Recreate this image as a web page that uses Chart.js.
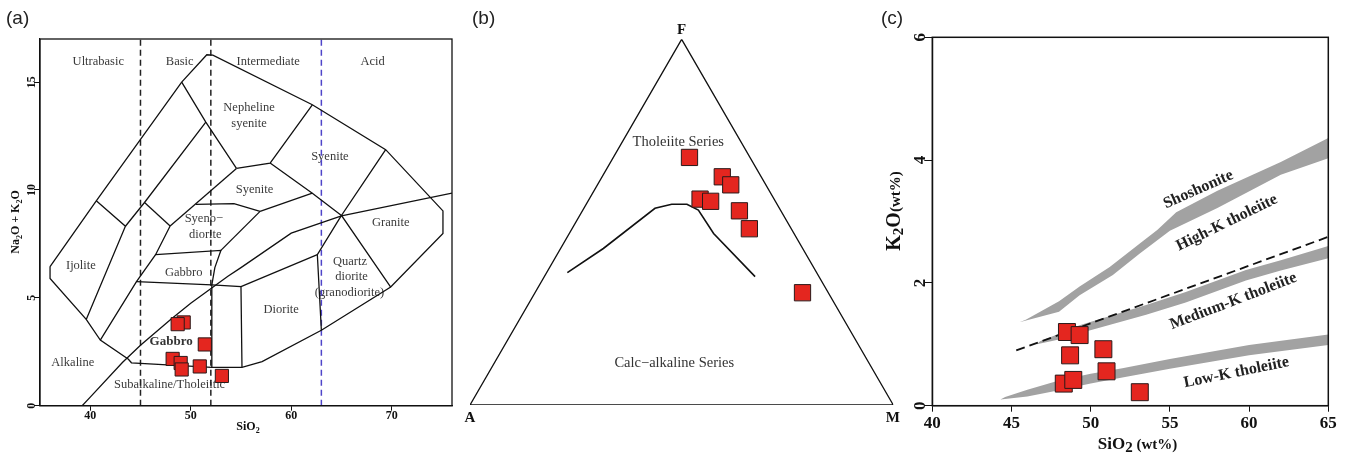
<!DOCTYPE html>
<html>
<head>
<meta charset="utf-8">
<title>TAS, AFM and K2O-SiO2 diagrams</title>
<script src="https://cdn.jsdelivr.net/npm/chart.js@4.4.1/dist/chart.umd.min.js"></script>
<style>
  html, body { margin: 0; padding: 0; background: #fff; }
  body { position: relative; width: 1349px; height: 455px; overflow: hidden; }
  .box { position: absolute; top: 0; height: 455px; }
  .tag { position: absolute; top: 7px; font: 19px "Liberation Sans", Arial, sans-serif; color: #222; }
</style>
</head>
<body>
<div class="box" style="left:0;width:460px"><canvas id="chartA"></canvas></div>
<div class="box" style="left:460px;width:440px"><canvas id="chartB"></canvas></div>
<div class="box" style="left:880px;width:469px"><canvas id="chartC"></canvas></div>
<div class="tag" style="left:6px">(a)</div>
<div class="tag" style="left:472px">(b)</div>
<div class="tag" style="left:881px">(c)</div>
<script>
// ---------- (a) TAS diagram ----------
const tasXTicks = [40, 50, 60, 70];
const tasYTicks = [0, 5, 10, 15];
const tasSiO2 = [49.3, 48.7, 51.4, 48.2, 49.0, 49.1, 50.9, 53.1];
const tasAlkali = [3.86, 3.78, 2.84, 2.17, 1.98, 1.68, 1.82, 1.38];
const silicaClasses = [45, 52, 63];
const tasOutline = [[36.0, 6.45], [36.0, 5.9], [39.6, 4.0], [41.0, 3.04], [43.8, 2.15], [44.1, 1.99], [52.1, 1.78], [55.1, 1.78], [57.1, 2.04], [63.0, 3.5], [69.9, 5.5], [75.1, 7.98], [75.1, 9.03], [69.4, 11.87], [62.1, 13.95], [52.2, 16.25], [51.6, 16.27], [49.1, 15.0], [40.6, 9.5], [36.0, 6.45]];
const tasFields = [
  [[40.6, 9.5], [43.5, 8.32], [39.6, 4.0]],
  [[43.5, 8.32], [45.4, 9.42], [51.5, 13.15]],
  [[45.4, 9.42], [47.95, 8.33]],
  [[47.95, 8.33], [46.5, 7.0], [44.6, 5.75], [41.0, 3.04]],
  [[49.1, 15.0], [51.5, 13.15], [54.55, 11.0]],
  [[54.55, 11.0], [57.9, 11.25], [62.1, 13.95]],
  [[47.95, 8.33], [54.55, 11.0]],
  [[50.5, 9.33], [54.3, 9.37], [56.9, 9.01]],
  [[56.9, 9.01], [62.1, 9.85]],
  [[57.9, 11.25], [62.1, 9.85], [65.0, 8.82]],
  [[69.4, 11.87], [65.0, 8.82], [69.9, 5.5]],
  [[65.0, 8.82], [62.6, 7.0], [63.0, 3.5]],
  [[56.9, 9.01], [53.0, 7.2]],
  [[46.5, 7.0], [53.0, 7.2], [52.4, 6.4], [52.1, 5.6], [52.1, 1.78]],
  [[44.6, 5.75], [52.1, 5.6], [55.0, 5.52], [55.1, 1.78]],
  [[55.0, 5.52], [62.6, 7.0]]
];
const alkalineDivide = [[39.2, 0], [40, 0.4], [43.2, 2], [45, 2.8], [48, 4], [50, 4.75], [53.7, 6], [55, 6.4], [60, 8], [65, 8.8], [76, 9.86]];
const tasLabels = [
  ['Ultrabasic', 40.8, 15.96], ['Basic', 48.9, 15.96], ['Intermediate', 57.7, 15.96], ['Acid', 68.1, 15.96],
  ['Nepheline', 55.8, 13.8], ['syenite', 55.8, 13.08], ['Syenite', 63.85, 11.53], ['Syenite', 56.35, 10.03],
  ['Syeno\u2212', 51.3, 8.67], ['diorite', 51.45, 7.92], ['Gabbro', 49.3, 6.16], ['Granite', 69.9, 8.47],
  ['Quartz', 65.85, 6.67], ['diorite', 66.0, 5.97], ['(granodiorite)', 65.8, 5.25], ['Diorite', 59.0, 4.46],
  ['Ijolite', 39.07, 6.51], ['Alkaline', 38.27, 1.99], ['Subalkaline/Tholeiitic', 47.9, 0.96]
];

// ---------- (b) AFM diagram (wt%) ----------
const afmA = [14.3, 9.2, 8.3, 17.5, 15.3, 9.8, 9.9, 6.1];
const afmF = [67.7, 62.4, 60.2, 56.3, 55.7, 53.1, 48.2, 30.7];
const afmM = [18.0, 28.4, 31.5, 26.2, 29.0, 37.1, 41.9, 63.2];
const divideA = [58.9, 47.1, 29.4, 24.9, 21.3, 19.4, 19.0, 15.1];
const divideF = [36.2, 42.8, 53.8, 54.9, 54.9, 53.3, 46.9, 35.1];
const divideM = [4.9, 10.1, 16.8, 20.2, 23.8, 27.3, 34.1, 49.8];

// ---------- (c) K2O vs SiO2 ----------
const kXTicks = [40, 45, 50, 55, 60, 65];
const kYTicks = [0, 2, 4, 6];
const kSiO2 = [48.5, 49.3, 48.7, 50.8, 51.0, 48.3, 48.9, 53.1];
const kK2O = [1.20, 1.15, 0.82, 0.92, 0.56, 0.36, 0.42, 0.22];
const shoLower = [[45.5, 1.36], [48, 1.53], [49.3, 1.8], [51.4, 2.13], [53.1, 2.48], [55, 2.85], [58, 3.22], [62, 3.76], [65, 4.03]];
const shoUpper = [[45.9, 1.4], [48, 1.7], [49.3, 1.94], [51.2, 2.26], [53.1, 2.64], [54.2, 2.86], [55.4, 3.15], [58, 3.5], [62, 3.97], [65, 4.36]];
const medLower = [[46.6, 1.0], [48, 1.08], [49.3, 1.18], [53.5, 1.48], [56, 1.68], [59.8, 2.04], [62, 2.2], [65, 2.4]];
const medUpper = [[46.8, 1.05], [48, 1.17], [49.3, 1.31], [53.5, 1.64], [56, 1.85], [59.8, 2.21], [62, 2.37], [65, 2.6]];
const lowLower = [[44.3, 0.1], [46, 0.15], [48, 0.25], [50, 0.36], [52, 0.46], [55, 0.6], [60, 0.82], [65, 0.99]];
const lowUpper = [[44.6, 0.14], [46, 0.26], [48, 0.41], [50, 0.52], [52, 0.61], [55, 0.76], [60, 0.99], [65, 1.16]];
const highMediumDivide = [[45.3, 0.9], [65, 2.75]];
const kLabels = [['Shoshonite', 56.8, 3.52, -24], ['High-K tholeiite', 58.6, 2.98, -26], ['Medium-K tholeiite', 59.0, 1.70, -21], ['Low-K tholeiite', 59.2, 0.54, -11.5]];

const SERIF = '"Liberation Serif", "Times New Roman", serif';
const RED = '#e4261f';

function xy(path) { return path.map(p => ({ x: p[0], y: p[1] })); }

function pathSet(path, extra) {
  return Object.assign({ data: xy(path), showLine: true, pointRadius: 0, borderColor: '#111', borderWidth: 1.3, fill: false }, extra || {});
}

function sampleSet(xs, ys, r) {
  return { data: xs.map((x, i) => ({ x: x, y: ys[i] })), showLine: false, pointStyle: 'rect', pointRadius: r,
           backgroundColor: RED, borderColor: '#2b1a1a', borderWidth: 1 };
}

function text(ctx, str, x, y, font, color, rot) {
  ctx.save();
  ctx.translate(x, y);
  if (rot) ctx.rotate(rot * Math.PI / 180);
  ctx.font = font;
  ctx.fillStyle = color;
  ctx.textAlign = 'center';
  ctx.textBaseline = 'middle';
  ctx.fillText(str, 0, 0);
  ctx.restore();
}

// parts: [string, size, dy]; x,y = centre of the baseline
function richText(ctx, parts, x, y, rot) {
  ctx.save();
  ctx.translate(x, y);
  if (rot) ctx.rotate(rot * Math.PI / 180);
  ctx.fillStyle = '#111';
  ctx.textBaseline = 'alphabetic';
  ctx.textAlign = 'left';
  let w = 0;
  parts.forEach(p => { ctx.font = 'bold ' + p[1] + 'px ' + SERIF; w += ctx.measureText(p[0]).width; });
  let cx = -w / 2;
  parts.forEach(p => {
    ctx.font = 'bold ' + p[1] + 'px ' + SERIF;
    ctx.fillText(p[0], cx, p[2] || 0);
    cx += ctx.measureText(p[0]).width;
  });
  ctx.restore();
}

function frame(chart, lw) {
  const a = chart.chartArea, ctx = chart.ctx;
  ctx.save();
  ctx.strokeStyle = '#111';
  ctx.lineWidth = lw;
  ctx.strokeRect(a.left, a.top, a.right - a.left, a.bottom - a.top);
  ctx.restore();
}

function axisX(min, max, ticks, size, tickLen, pad, h) {
  return {
    type: 'linear', min: min, max: max,
    afterBuildTicks: s => { s.ticks = ticks.map(v => ({ value: v })); },
    afterFit: s => { s.height = h; },
    grid: { drawOnChartArea: false, drawTicks: true, tickLength: tickLen, color: '#111' },
    border: { display: true, color: '#111', width: 1.2 },
    ticks: { color: '#111', padding: pad, maxRotation: 0, autoSkip: false, font: { family: SERIF, size: size, weight: 'bold' } }
  };
}

function axisY(min, max, ticks, tickLen, w) {
  return {
    type: 'linear', min: min, max: max,
    afterBuildTicks: s => { s.ticks = ticks.map(v => ({ value: v })); },
    afterFit: s => { s.width = w; },
    grid: { drawOnChartArea: false, drawTicks: true, tickLength: tickLen, color: '#111' },
    border: { display: true, color: '#111', width: 1.2 },
    ticks: { display: false }
  };
}

const common = {
  responsive: true, maintainAspectRatio: false, animation: false, events: [],
  plugins: { legend: { display: false }, tooltip: { enabled: false } }
};

// ----- chart (a)
const setsA = [sampleSet(tasSiO2, tasAlkali, 9.3)];
setsA.push(pathSet(tasOutline));
tasFields.forEach(f => setsA.push(pathSet(f)));
setsA.push(pathSet(alkalineDivide));
silicaClasses.forEach((v, i) => setsA.push(pathSet([[v, 0], [v, 17]], {
  borderColor: i === 2 ? '#4f45c9' : '#222', borderDash: [6, 4], borderWidth: 1.5
})));

new Chart(document.getElementById('chartA'), {
  type: 'scatter',
  data: { datasets: setsA },
  options: Object.assign({}, common, {
    layout: { autoPadding: false, padding: { top: 39, right: 8, left: 0, bottom: 0 } },
    scales: { x: axisX(35, 76, tasXTicks, 12, 5, -2, 49.3), y: axisY(0, 17, tasYTicks, 6, 40) }
  }),
  plugins: [{
    id: 'decorA',
    beforeDatasetsDraw(chart) {
      const ctx = chart.ctx, sx = chart.scales.x, sy = chart.scales.y;
      tasLabels.forEach(l => text(ctx, l[0], sx.getPixelForValue(l[1]), sy.getPixelForValue(l[2]), '12.5px ' + SERIF, '#3a3a3a'));
      text(ctx, 'Gabbro', sx.getPixelForValue(48.05), sy.getPixelForValue(2.96), 'bold 13px ' + SERIF, '#333');
    },
    afterDraw(chart) {
      const ctx = chart.ctx, sy = chart.scales.y;
      frame(chart, 1.3);
      tasYTicks.forEach(v => text(ctx, String(v), 31.7, sy.getPixelForValue(v), 'bold 12px ' + SERIF, '#111', -90));
      richText(ctx, [['SiO', 12], ['2', 8, 3]], 248, 430);
      richText(ctx, [['Na', 12], ['2', 8, 3], ['O + K', 12], ['2', 8, 3], ['O', 12]], 19, 222, -90);
    }
  }]
});

// ----- chart (b)
function tern(a, f, m) {
  const s = a + f + m;
  return { x: (m + f / 2) / s, y: (f / s) * Math.sqrt(3) / 2 };
}
const setsB = [{
  data: afmA.map((a, i) => tern(a, afmF[i], afmM[i])), showLine: false, pointStyle: 'rect', pointRadius: 11.5,
  backgroundColor: RED, borderColor: '#2b1a1a', borderWidth: 1
}, {
  data: [tern(100, 0, 0), tern(0, 0, 100), tern(0, 100, 0), tern(100, 0, 0)],
  showLine: true, pointRadius: 0, borderColor: '#111', borderWidth: 1.3, fill: false
}, {
  data: divideA.map((a, i) => tern(a, divideF[i], divideM[i])),
  showLine: true, pointRadius: 0, borderColor: '#111', borderWidth: 1.6, fill: false
}];

new Chart(document.getElementById('chartB'), {
  type: 'scatter',
  data: { datasets: setsB },
  options: Object.assign({}, common, {
    layout: { autoPadding: false, padding: { top: 39.3, right: 6.7, left: 10, bottom: 50 } },
    scales: {
      x: { type: 'linear', min: 0, max: 1, display: false },
      y: { type: 'linear', min: 0, max: Math.sqrt(3) / 2, display: false }
    }
  }),
  plugins: [{
    id: 'decorB',
    beforeDatasetsDraw(chart) {
      const ctx = chart.ctx, sx = chart.scales.x, sy = chart.scales.y;
      const px = p => [sx.getPixelForValue(p.x), sy.getPixelForValue(p.y)];
      let p = px(tern(14.9, 71.8, 13.3));
      text(ctx, 'Tholeiite Series', p[0], p[1], '14.5px ' + SERIF, '#333');
      p = px(tern(46.0, 11.5, 42.5));
      text(ctx, 'Calc\u2212alkaline Series', p[0], p[1], '14.5px ' + SERIF, '#333');
    },
    afterDraw(chart) {
      const ctx = chart.ctx, sx = chart.scales.x, sy = chart.scales.y;
      const f = tern(0, 100, 0), a = tern(100, 0, 0), m = tern(0, 0, 100);
      text(ctx, 'F', sx.getPixelForValue(f.x), sy.getPixelForValue(f.y) - 9.5, 'bold 15px ' + SERIF, '#111');
      text(ctx, 'A', sx.getPixelForValue(a.x), sy.getPixelForValue(a.y) + 13, 'bold 15px ' + SERIF, '#111');
      text(ctx, 'M', sx.getPixelForValue(m.x) - 0.5, sy.getPixelForValue(m.y) + 13, 'bold 15px ' + SERIF, '#111');
    }
  }]
});

// ----- chart (c)
function band(lower, upper) {
  return {
    data: xy(lower.concat(upper.slice().reverse())), showLine: true, pointRadius: 0,
    fill: 'shape', backgroundColor: '#a2a2a2', borderColor: '#a2a2a2', borderWidth: 0
  };
}
const setsC = [
  sampleSet(kSiO2, kK2O, 12),
  pathSet(highMediumDivide, { borderDash: [9, 5], borderWidth: 1.8, borderColor: '#111' }),
  band(shoLower, shoUpper),
  band(medLower, medUpper),
  band(lowLower, lowUpper)
];

new Chart(document.getElementById('chartC'), {
  type: 'scatter',
  data: { datasets: setsC },
  options: Object.assign({}, common, {
    layout: { autoPadding: false, padding: { top: 37.3, right: 20.7, left: 0, bottom: 0 } },
    scales: { x: axisX(40, 65, kXTicks, 17, 6, 2, 49.3), y: axisY(0, 6, kYTicks, 8, 52.3) }
  }),
  plugins: [{
    id: 'decorC',
    beforeDatasetsDraw(chart) {
      const ctx = chart.ctx, sx = chart.scales.x, sy = chart.scales.y;
      kLabels.forEach(l => text(ctx, l[0], sx.getPixelForValue(l[1]), sy.getPixelForValue(l[2]), 'bold 16px ' + SERIF, '#222', l[3]));
    },
    afterDraw(chart) {
      const ctx = chart.ctx, sy = chart.scales.y;
      frame(chart, 1.5);
      kYTicks.forEach(v => text(ctx, String(v), 41, sy.getPixelForValue(v), 'bold 17px ' + SERIF, '#111', -90));
      richText(ctx, [['SiO', 17], ['2', 15, 3], [' (wt%)', 15]], 257.5, 448.5);
      richText(ctx, [['K', 20], ['2', 15, 3], ['O', 20], ['(wt%)', 15]], 20, 211, -90);
    }
  }]
});
</script>
</body>
</html>
